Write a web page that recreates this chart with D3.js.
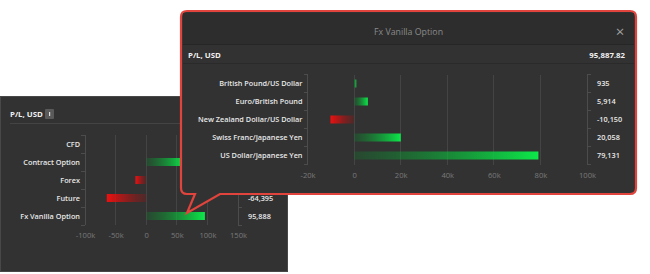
<!DOCTYPE html>
<html><head><meta charset="utf-8">
<script src="https://cdn.jsdelivr.net/npm/d3@7"></script>
<style>
body{margin:0;background:#fff;}
svg{display:block;font-family:"Open Sans",sans-serif;}
</style></head><body>
<svg id="c" width="650" height="274"></svg>
<script>
// Back panel (P/L by instrument type)
const mainCategories = ["CFD","Contract Option","Forex","Future","Fx Vanilla Option"];
const mainValues = [0, 62400, -17600, -64395, 95888];
const mainTicks = [-100000,-50000,0,50000,100000,150000];
// Popup (Fx Vanilla Option breakdown)
const popupTitle = "Fx Vanilla Option";
const popupTotal = "95,887.82";
const popCategories = ["British Pound/US Dollar","Euro/British Pound","New Zealand Dollar/US Dollar","Swiss Franc/Japanese Yen","US Dollar/Japanese Yen"];
const popValues = [935, 5914, -10150, 20058, 79131];
const popTicks = [-20000,0,20000,40000,60000,80000,100000];

const svg = d3.select("#c");
const defs = svg.append("defs");
const gp = defs.append("linearGradient").attr("id","gpos").attr("x1",0).attr("x2",1).attr("y1",0).attr("y2",0);
gp.append("stop").attr("offset","0%").attr("stop-color","#0a8a2c").attr("stop-opacity",0.25);
gp.append("stop").attr("offset","100%").attr("stop-color","#0de84a").attr("stop-opacity",1);
const gn = defs.append("linearGradient").attr("id","gneg").attr("x1",0).attr("x2",1).attr("y1",0).attr("y2",0);
gn.append("stop").attr("offset","0%").attr("stop-color","#ee1010").attr("stop-opacity",1);
gn.append("stop").attr("offset","100%").attr("stop-color","#a01010").attr("stop-opacity",0.25);

const fmt = v => d3.format(",")(v).replace("−","-");
const tickFmt = d => d===0 ? "0" : (d<0?"-":"")+d3.format("d")(Math.abs(d)/1000)+"k";

// popup box (used to know which back-panel values are covered)
const pop = {x0:181, y0:11, x1:636, y1:194};

function drawChart(g, cats, vals, ticks, cfg){
  const x = d3.scaleLinear().domain(cfg.domain).range([cfg.x0, cfg.x1]);
  const y = d3.scaleBand().domain(cats).range([cfg.y0, cfg.y1]);
  g.selectAll(".grid").data(ticks).join("line")
    .attr("x1",d=>x(d)).attr("x2",d=>x(d)).attr("y1",cfg.y0).attr("y2",cfg.y1)
    .attr("stroke","#444").attr("stroke-width",1).attr("shape-rendering","crispEdges");
  [cfg.x0, cfg.x1].forEach((ax,i)=>{
    g.append("line").attr("x1",ax).attr("x2",ax).attr("y1",cfg.y0).attr("y2",cfg.y1)
      .attr("stroke","#4c4c4c").attr("shape-rendering","crispEdges");
    const bounds = cats.map(c=>y(c)).concat([cfg.y1]);
    g.selectAll(".bt"+i).data(bounds).join("line")
      .attr("x1",ax).attr("x2",ax+(i===0?-4:4)).attr("y1",d=>d).attr("y2",d=>d)
      .attr("stroke","#4c4c4c").attr("shape-rendering","crispEdges");
  });
  g.selectAll(".bar").data(cats).join("rect")
    .attr("x",(c,i)=>x(Math.min(0,vals[i])))
    .attr("width",(c,i)=>Math.abs(x(vals[i])-x(0)))
    .attr("y",c=>y(c)+y.bandwidth()/2-4).attr("height",8)
    .attr("fill",(c,i)=>vals[i]<0?"url(#gneg)":"url(#gpos)");
  g.selectAll(".lab").data(cats).join("text")
    .attr("x",cfg.x0-5).attr("y",c=>y(c)+y.bandwidth()/2).attr("dy","0.35em")
    .attr("text-anchor","end").attr("fill","#e8e8e8").attr("font-size",7.3).attr("font-weight",600)
    .text(c=>c);
  const shown = cats.map((c,i)=>i).filter(i=>!cfg.hideUnder || (y(cats[i])+y.bandwidth()/2) > cfg.hideUnder);
  g.selectAll(".val").data(shown).join("text")
    .attr("x",cfg.x1+10).attr("y",i=>y(cats[i])+y.bandwidth()/2).attr("dy","0.35em")
    .attr("fill","#e8e8e8").attr("font-size",7.3).attr("font-weight",600)
    .text(i=>fmt(vals[i]));
  const ax = d3.axisBottom(x).tickValues(ticks).tickFormat(tickFmt).tickSize(0);
  const a = g.append("g").attr("transform",`translate(0,${cfg.y1+5})`).call(ax);
  a.select(".domain").remove();
  a.selectAll("text").attr("fill","#7a7a7a").attr("font-size",7.6).attr("font-family","'Open Sans',sans-serif");
}

// back panel
svg.append("rect").attr("x",0.5).attr("y",96.5).attr("width",287).attr("height",175)
  .attr("fill","#323232").attr("stroke","#484848");
svg.append("text").attr("x",10).attr("y",117).attr("fill","#f0f0f0").attr("font-size",7.8).attr("font-weight",700).text("P/L, USD");
svg.append("rect").attr("x",45).attr("y",109).attr("width",9).attr("height",10).attr("rx",1).attr("fill","#5a5a5a");
svg.append("rect").attr("x",49).attr("y",112).attr("width",1.2).attr("height",4).attr("fill","#ddd");
svg.append("line").attr("x1",10).attr("x2",288).attr("y1",123.5).attr("y2",123.5).attr("stroke","#444");
drawChart(svg.append("g"), mainCategories, mainValues, mainTicks,
  {domain:[-100000,150000], x0:85, x1:238, y0:135, y1:225, hideUnder:pop.y1});

// popup
const r=6;
const path = `M${pop.x0+r},${pop.y0} H${pop.x1-r} Q${pop.x1},${pop.y0} ${pop.x1},${pop.y0+r} V${pop.y1-r} Q${pop.x1},${pop.y1} ${pop.x1-r},${pop.y1}
 H220 L187,213 L195,${pop.y1} H${pop.x0+r} Q${pop.x0},${pop.y1} ${pop.x0},${pop.y1-r} V${pop.y0+r} Q${pop.x0},${pop.y0} ${pop.x0+r},${pop.y0} Z`;
svg.append("path").attr("d",path).attr("fill","#323232").attr("stroke","#e0443c").attr("stroke-width",2.2).attr("stroke-linejoin","miter");
svg.append("rect").attr("x",pop.x0+2).attr("y",pop.y0+2).attr("width",pop.x1-pop.x0-4).attr("height",31).attr("fill","#2d2d2d");
svg.append("line").attr("x1",pop.x0+2).attr("x2",pop.x1-2).attr("y1",44.5).attr("y2",44.5).attr("stroke","#262626");
svg.append("text").attr("x",(pop.x0+pop.x1)/2).attr("y",35).attr("text-anchor","middle").attr("fill","#8a8a8a").attr("font-size",8.8).text(popupTitle);
svg.append("text").attr("x",620).attr("y",36.5).attr("text-anchor","middle").attr("fill","#a0a0a0").attr("font-size",15).text("×");
svg.append("text").attr("x",188).attr("y",58).attr("fill","#f0f0f0").attr("font-size",7.8).attr("font-weight",700).text("P/L, USD");
svg.append("text").attr("x",625).attr("y",58).attr("text-anchor","end").attr("fill","#f0f0f0").attr("font-size",7.8).attr("font-weight",700).text(popupTotal);
svg.append("line").attr("x1",pop.x0+2).attr("x2",pop.x1-2).attr("y1",63.5).attr("y2",63.5).attr("stroke","#2a2a2a");
drawChart(svg.append("g"), popCategories, popValues, popTicks,
  {domain:[-20000,100000], x0:307.5, x1:587, y0:74.5, y1:164.5});
</script></body></html>
